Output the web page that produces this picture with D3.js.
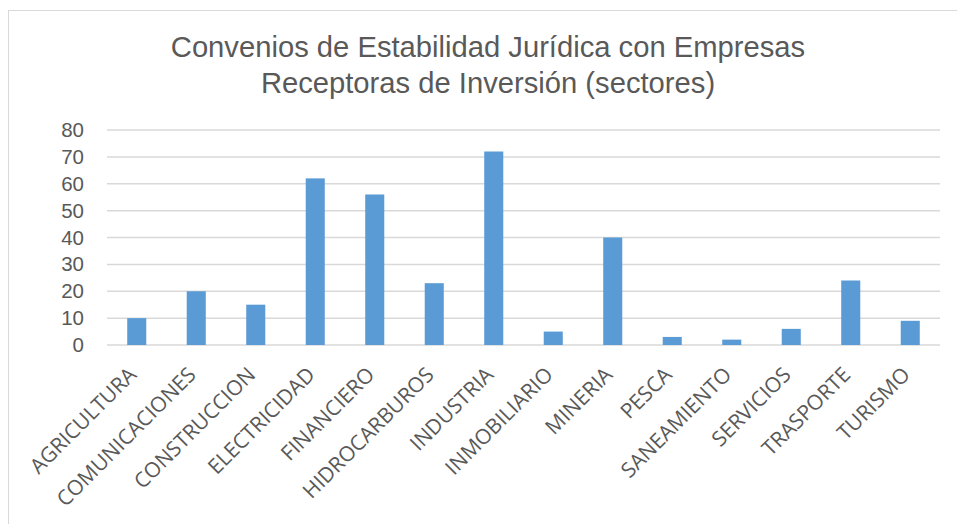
<!DOCTYPE html>
<html>
<head>
<meta charset="utf-8">
<script src="https://cdn.jsdelivr.net/npm/d3@7"></script>
<style>
  body { margin: 0; background: #fff; }
</style>
</head>
<body>
<div id="chart"></div>
<script>
// data
const sectores = ["AGRICULTURA", "COMUNICACIONES", "CONSTRUCCION", "ELECTRICIDAD", "FINANCIERO",
    "HIDROCARBUROS", "INDUSTRIA", "INMOBILIARIO", "MINERIA", "PESCA", "SANEAMIENTO",
    "SERVICIOS", "TRASPORTE", "TURISMO"];
const convenios = [10, 20, 15, 62, 56, 23, 72, 5, 40, 3, 2, 6, 24, 9];
const yTicks = [0, 10, 20, 30, 40, 50, 60, 70, 80];
const titleLines = ["Convenios de Estabilidad Jurídica con Empresas", "Receptoras de Inversión (sectores)"];

let width = 957, height = 524;
let margin = { top: 130, right: 17, bottom: 179, left: 107 };

let svg = d3.select("#chart").append("svg")
    .attr("width", width)
    .attr("height", height);

// chart frame
svg.append("rect")
    .attr("x", 8.5).attr("y", 10.5)
    .attr("width", width + 10).attr("height", height + 10)
    .attr("fill", "#fff")
    .attr("stroke", "#d9d9d9")
    .attr("stroke-width", 1);

let x = d3.scaleBand()
    .domain(sectores)
    .range([margin.left, width - margin.right])
    .paddingInner(0.68)
    .paddingOuter(0.34);

let y = d3.scaleLinear()
    .domain([0, 80])
    .range([height - margin.bottom, margin.top]);

// title
svg.append("g").selectAll("text")
    .data(titleLines)
    .enter()
    .append("text")
    .attr("x", 488)
    .attr("y", function(d, i) { return 57 + i * 36 })
    .attr("text-anchor", "middle")
    .style("font-family", "'Liberation Sans', Arial, sans-serif")
    .style("font-size", "29.2px")
    .attr("fill", "#595959")
    .text(function(d) { return d });

// gridlines
svg.append("g").selectAll("line")
    .data(yTicks)
    .enter()
    .append("line")
    .attr("x1", margin.left)
    .attr("x2", width - margin.right)
    .attr("y1", function(d) { return y(d) })
    .attr("y2", function(d) { return y(d) })
    .attr("stroke", "#d9d9d9")
    .attr("stroke-width", 1.5);

// y axis labels
let yAxis = svg.append("g")
    .attr("transform", "translate(" + (margin.left - 23) + ",0)")
    .call(d3.axisLeft(y).tickValues(yTicks).tickSize(0).tickPadding(0));
yAxis.select(".domain").remove();
yAxis.selectAll("text")
    .style("font-family", "'Liberation Sans', Arial, sans-serif")
    .style("font-size", "20.5px")
    .attr("fill", "#595959");

// bars
svg.append("g").selectAll("rect")
    .data(convenios)
    .enter()
    .append("rect")
    .attr("x", function(d, i) { return x(sectores[i]) })
    .attr("y", function(d) { return y(d) })
    .attr("width", x.bandwidth())
    .attr("height", function(d) { return y(0) - y(d) })
    .attr("fill", "#5b9bd5");

// category labels
svg.append("g").selectAll("text")
    .data(sectores)
    .enter()
    .append("text")
    .attr("transform", function(d) {
        return "translate(" + (x(d) + x.bandwidth() / 2 + 1) + "," + (y(0) + 31) + ")rotate(-45)";
    })
    .attr("text-anchor", "end")
    .style("font-family", "'Open Sans', sans-serif")
    .style("font-size", "21px")
    .attr("fill", "#595959")
    .text(function(d) { return d });
</script>
</body>
</html>
